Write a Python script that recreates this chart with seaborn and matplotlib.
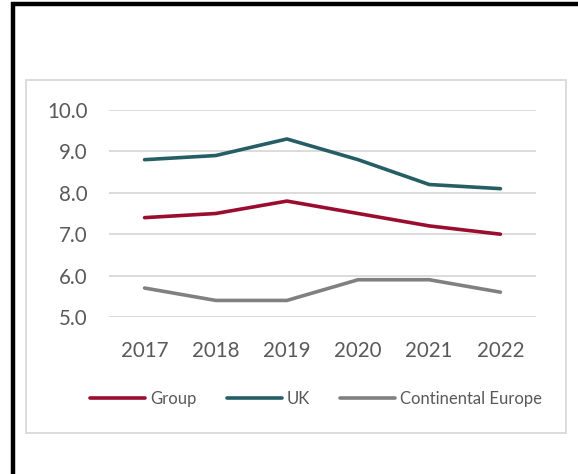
import pandas as pd
import matplotlib
matplotlib.use("Agg")
import matplotlib.pyplot as plt
import seaborn as sns
from matplotlib.lines import Line2D
from matplotlib.patches import Rectangle

# data
years = ["2017", "2018", "2019", "2020", "2021", "2022"]
group = [7.4, 7.5, 7.8, 7.5, 7.2, 7.0]
uk = [8.8, 8.9, 9.3, 8.8, 8.2, 8.1]
cont_europe = [5.7, 5.4, 5.4, 5.9, 5.9, 5.6]

df = pd.DataFrame({"Year": years, "Group": group, "UK": uk,
                   "Continental Europe": cont_europe})
long_df = df.melt(id_vars="Year", var_name="Series", value_name="Value")

sns.set_style("white")
plt.rcParams["font.family"] = ["Lato", "DejaVu Sans"]

palette = {"Group": "#9B0D2E", "UK": "#255E64", "Continental Europe": "#808080"}
text_col = "#595959"

W, H = 578, 474
fig = plt.figure(figsize=(W / 100, H / 100), dpi=100)

# outer frame bits (black top/left) and light grey chart box
fig.add_artist(Line2D([13 / W, 13 / W], [0, 1 - 2 / H], color="black", lw=3.2,
                      transform=fig.transFigure, solid_capstyle="butt"))
fig.add_artist(Line2D([11 / W, 1], [1 - 4 / H, 1 - 4 / H], color="black", lw=3.2,
                      transform=fig.transFigure, solid_capstyle="butt"))
fig.add_artist(Rectangle((26 / W, 1 - 433 / H), 540 / W, 353 / H,
                         transform=fig.transFigure, fill=False,
                         edgecolor="#D9D9D9", lw=1.3))

ax = fig.add_axes([109 / W, 1 - 317 / H, 427 / W, 207 / H])
sns.lineplot(data=long_df, x="Year", y="Value", hue="Series", palette=palette,
             linewidth=2.6, ax=ax, legend=False, sort=False)

ax.set_xlim(-0.5, 5.5)
ax.set_ylim(5, 10)
ax.set_yticks([5, 6, 7, 8, 9, 10])
ax.set_yticklabels([f"{v:.1f}" for v in [5, 6, 7, 8, 9, 10]])
ax.yaxis.grid(True, color="#D9D9D9", lw=1.3)
ax.set_axisbelow(True)
for s in ax.spines.values():
    s.set_visible(False)
ax.tick_params(axis="both", length=0, labelsize=14.8, colors=text_col)
ax.tick_params(axis="y", pad=15.5)
ax.tick_params(axis="x", pad=17)
ax.set_xlabel("")
ax.set_ylabel("")

handles = [Line2D([], [], color=palette[k], lw=2.6, solid_capstyle="round")
           for k in ["Group", "UK", "Continental Europe"]]
leg = fig.legend(handles, ["Group", "UK", "Continental Europe"], ncol=3,
                 loc="center", bbox_to_anchor=(316 / W, 1 - 399 / H),
                 frameon=False, fontsize=12, handlelength=3.3,
                 handletextpad=0.3, columnspacing=1.8)
for t in leg.get_texts():
    t.set_color(text_col)

fig.savefig("out.png", dpi=100)
